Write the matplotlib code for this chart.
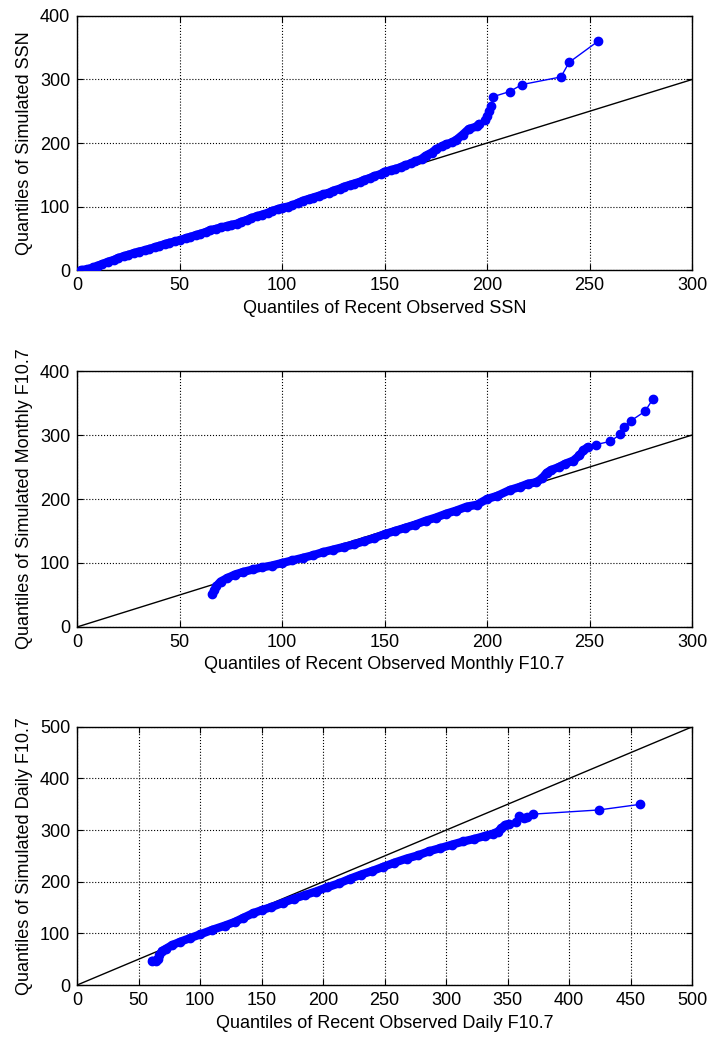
import numpy as np
import matplotlib
matplotlib.use("Agg")
import matplotlib.pyplot as plt

plt.rcParams['font.family'] = ['Liberation Sans', 'DejaVu Sans']
plt.rcParams['font.size'] = 13

# panel 1: SSN
ssn_obs = [2, 3, 5, 6, 8, 10, 12, 15, 18, 20, 23, 25, 28, 30, 33, 35, 38, 40, 43, 45, 48, 50,
           53, 55, 58, 60, 63, 65, 68, 70, 73, 75, 78, 80, 83, 85, 88, 90, 93, 95, 98, 100,
           103, 105, 108, 110, 113, 115, 118, 120, 123, 125, 128, 130, 133, 135, 138, 140,
           143, 145, 148, 150, 153, 155, 158, 160, 163, 165, 168, 170, 173, 175, 178, 180,
           183, 185, 188, 191, 195, 196, 199, 200, 201, 202, 203, 211, 217, 236, 240, 254]
ssn_sim = [0, 0, 1, 2, 4, 7, 9, 13, 16, 19, 22, 24, 27, 29, 31, 33, 36, 38, 41, 43, 45, 47,
           50, 52, 55, 57, 60, 63, 65, 67, 69, 71, 73, 76, 79, 82, 85, 87, 90, 93, 96, 98,
           100, 102, 106, 109, 112, 114, 117, 119, 122, 125, 128, 131, 134, 136, 139, 142,
           145, 148, 151, 155, 157, 159, 162, 165, 168, 171, 175, 180, 185, 190, 195, 198,
           201, 205, 213, 222, 226, 230, 236, 242, 250, 258, 273, 281, 292, 304, 327, 360]
ssn_dense = 80

# panel 2: monthly F10.7
mon_obs = [66, 67, 68, 70, 73, 77, 81, 86, 90, 95, 100, 105, 110, 115, 120, 125, 130, 135,
           140, 145, 150, 155, 160, 165, 170, 175, 180, 185, 190, 195, 200, 205, 211, 216,
           220, 224, 227, 229, 231, 235, 238, 242, 245, 247, 249, 253, 260, 265, 267, 270,
           277, 281]
mon_sim = [51, 57, 64, 71, 76, 82, 86, 90, 93, 96, 100, 104, 108, 112, 117, 121, 125, 129,
           134, 139, 145, 150, 155, 160, 166, 171, 177, 182, 188, 191, 200, 205, 214, 219,
           224, 226, 233, 241, 245, 250, 255, 260, 268, 276, 281, 285, 290, 301, 313, 322,
           337, 357]
mon_dense = 45

# panel 3: daily F10.7
day_obs = [61, 64, 66, 67, 69, 72, 77, 84, 92, 100, 110, 120, 128, 135, 143, 150, 158, 167,
           176, 185, 194, 203, 213, 222, 231, 240, 249, 258, 268, 277, 286, 295, 305, 314,
           323, 332, 338, 342, 345, 348, 351, 357, 359, 363, 366, 371, 424, 458]
day_sim = [47, 47, 50, 58, 66, 70, 77, 84, 91, 98, 107, 115, 122, 130, 139, 145, 151, 159,
           167, 174, 181, 189, 197, 206, 214, 221, 229, 237, 245, 251, 259, 265, 272, 278,
           283, 289, 293, 297, 304, 310, 312, 316, 327, 323, 325, 331, 339, 350]
day_dense = 41

panels = [
    (ssn_obs, ssn_sim, ssn_dense, 300, 400, 'Quantiles of Recent Observed SSN',
     'Quantiles of Simulated SSN', [0.109, 0.7396, 0.870, 0.245]),
    (mon_obs, mon_sim, mon_dense, 300, 400, 'Quantiles of Recent Observed Monthly F10.7',
     'Quantiles of Simulated Monthly F10.7', [0.109, 0.3954, 0.870, 0.2468]),
    (day_obs, day_sim, day_dense, 500, 500, 'Quantiles of Recent Observed Daily F10.7',
     'Quantiles of Simulated Daily F10.7', [0.109, 0.0501, 0.870, 0.249]),
]

fig = plt.figure(figsize=(7.07, 10.37), dpi=100)

for xs, ys, nd, xmax, ymax, xlab, ylab, pos in panels:
    ax = fig.add_axes(pos)
    ax.plot([0, xmax], [0, xmax], color='k', lw=1.0, zorder=2)
    ax.plot(xs[:nd], ys[:nd], color='#0000ff', lw=6, solid_capstyle='round', zorder=3)
    ax.plot(xs, ys, color='#0000ff', lw=1.0, marker='o', markersize=6, zorder=4)
    ax.set_xlim(0, xmax)
    ax.set_ylim(0, ymax)
    ax.set_xticks(np.arange(0, xmax + 1, 50))
    ax.set_yticks(np.arange(0, ymax + 1, 100))
    ax.grid(True, color='k', linestyle=':', lw=0.8)
    ax.tick_params(direction='in', top=True, right=True, length=4, pad=5)
    for s in ax.spines.values():
        s.set_linewidth(1.0)
    ax.set_xlabel(xlab, labelpad=4)
    ax.set_ylabel(ylab, labelpad=5)

fig.savefig('out.png', dpi=100)
